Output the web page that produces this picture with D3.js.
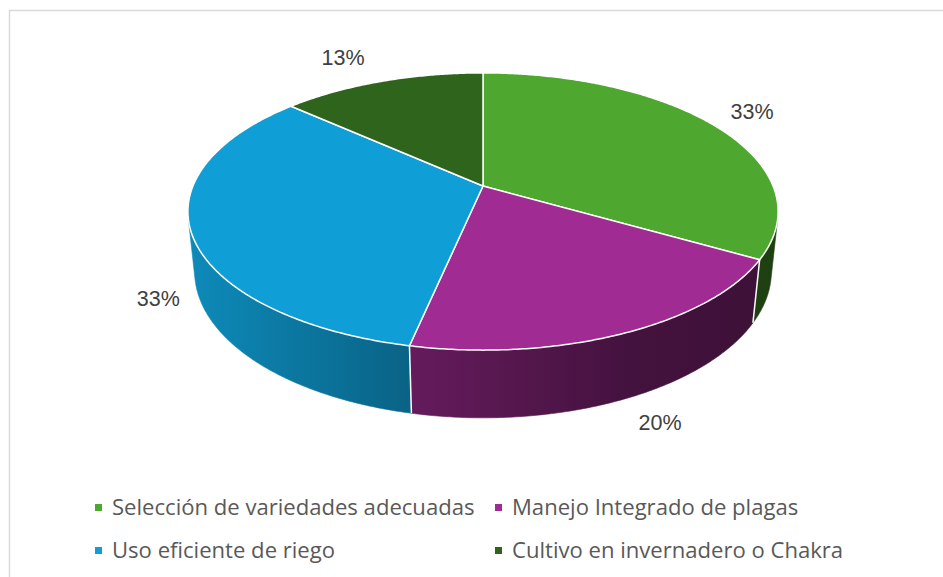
<!DOCTYPE html>
<html><head><meta charset="utf-8">
<script src="https://cdn.jsdelivr.net/npm/d3@7"></script>
<style>body{margin:0;background:#fff} svg{display:block}</style>
</head><body><svg id="c" width="943" height="577"></svg>
<script>
const categories = ["Selección de variedades adecuadas","Manejo Integrado de plagas","Uso eficiente de riego","Cultivo en invernadero o Chakra"];
const values = [5,3,5,2];
const colors = ["#4EA72E","#A02B93","#0F9ED5","#2F641C"];

const W=943,H=577;
const svg = d3.select("#c");
svg.append("rect").attr("x",9.5).attr("y",10.5).attr("width",W).attr("height",H)
  .attr("fill","#fff").attr("stroke","#d9d9d9").attr("stroke-width",1.5);

// 3D perspective projection of a unit disk
const cx=483, cy=186, f=1398, Dist=4.82, alpha=27.5*Math.PI/180, depth=0.235;
function proj(rho, th, z){
  const X=rho*Math.sin(th), Y=-rho*Math.cos(th);
  const d=Dist - Y*Math.cos(alpha) - z*Math.sin(alpha);
  return [cx+f*X/d, cy+f*(Y*Math.sin(alpha)-z*Math.cos(alpha))/d];
}
function arcPts(a0,a1,z){
  const n=Math.max(2,Math.ceil((a1-a0)/(Math.PI/360)));
  return d3.range(n+1).map(i=>proj(1,a0+(a1-a0)*i/n,z));
}
const line = d3.line();
const total = d3.sum(values);
const fmt = d3.format(".0%");
const arcs = d3.pie().sort(null).value(d=>d)(values);

// visible wall range
const c = 1/(Dist*Math.cos(alpha));
const vis0 = Math.acos(-c), vis1 = 2*Math.PI - Math.acos(-c);

// gradients (light from left)
const defs = svg.append("defs");
const xL = proj(1, vis1, 0)[0]-5, xR = proj(1, vis0, 0)[0]+5;
const shade = d3.scaleLinear().domain([-1,-0.25,0.5,1]).range([0.88,0.63,0.42,0.38]);
colors.forEach((col,i)=>{
  const g = defs.append("linearGradient").attr("id","g"+i)
    .attr("gradientUnits","userSpaceOnUse").attr("x1",xL).attr("x2",xR).attr("y1",0).attr("y2",0);
  d3.range(0,1.0001,0.05).forEach(t=>{
    const u = -1+2*t, k = shade(u), b = d3.rgb(col);
    g.append("stop").attr("offset",t).attr("stop-color", d3.rgb(b.r*k,b.g*k,b.b*k).formatHex());
  });
});

// walls
const gWall = svg.append("g");
arcs.forEach((a,i)=>{
  const w0=Math.max(a.startAngle,vis0), w1=Math.min(a.endAngle,vis1);
  if (w1<=w0) return;
  const pts = arcPts(w0,w1,0).concat(arcPts(w0,w1,-depth).reverse());
  gWall.append("path").attr("d", line(pts)+"Z").attr("fill","url(#g"+i+")")
    .attr("stroke","url(#g"+i+")").attr("stroke-width",0.6);
});
arcs.forEach(a=>{
  const t=a.startAngle;
  if (t>vis0 && t<vis1){
    gWall.append("path").attr("d", line([proj(1,t,0),proj(1,t,-depth)]))
      .attr("stroke","#fff").attr("stroke-width",1.5).attr("fill","none");
  }
});

// tops
const gTop = svg.append("g");
arcs.forEach((a,i)=>{
  const pts=[proj(0,0,0)].concat(arcPts(a.startAngle,a.endAngle,0));
  gTop.append("path").attr("d", line(pts)+"Z").attr("fill",colors[i])
    .attr("stroke","#fff").attr("stroke-width",1.5).attr("stroke-linejoin","round");
});

// labels: outside end, anchored at the visible outer edge
arcs.forEach((a,i)=>{
  const m=(a.startAngle+a.endAngle)/2, u=Math.sin(m), v=-Math.cos(m);
  const p=proj(1,m, v>0?-depth:0);
  svg.append("text").attr("x",p[0]+Math.sign(u)*39).attr("y",p[1]+v*25).attr("text-anchor","middle")
    .attr("dominant-baseline","central")
    .style("font-family","'Liberation Sans', Arial, sans-serif").style("font-size","21.5px")
    .attr("fill","#404040").text(fmt(values[i]/total));
});

// legend
const lg = svg.append("g");
const targetW = 1204; // combined width of the four legend texts in the reference
let measured = 0;
categories.forEach(name=>{
  const t = lg.append("text").style("font-family","'Open Sans'").style("font-size","20px").text(name);
  measured += t.node().getComputedTextLength(); t.remove();
});
const fs = 20*targetW/measured;
categories.forEach((name,i)=>{
  const col=i%2, row=Math.floor(i/2);
  const x=95+col*400, yb=515+row*43;
  lg.append("rect").attr("x",x).attr("y",yb-11).attr("width",7).attr("height",7).attr("fill",colors[i]);
  lg.append("text").attr("x",x+17).attr("y",yb)
    .style("font-family","'Open Sans'").style("font-size",fs+"px").attr("fill","#595959").text(name);
});
</script></body></html>
